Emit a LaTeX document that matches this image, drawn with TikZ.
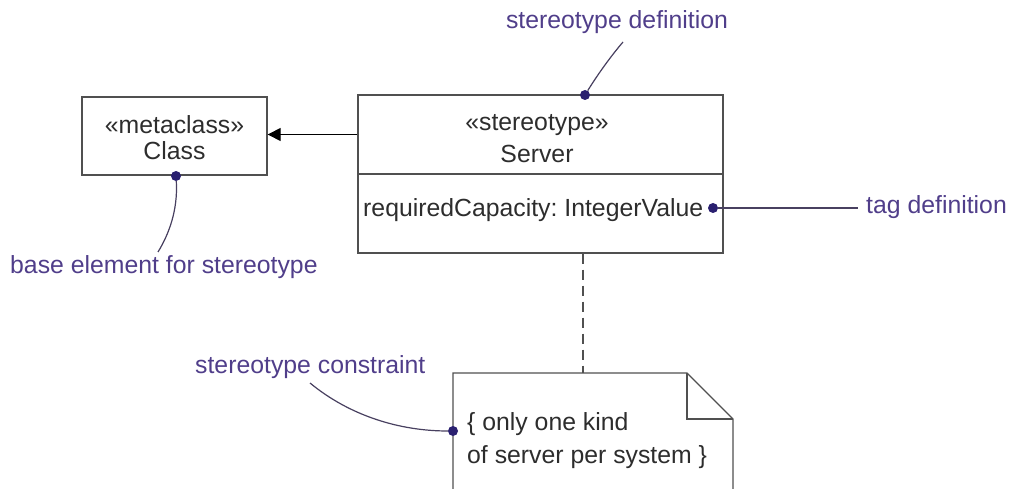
\documentclass[tikz,border=0pt]{standalone}
\usepackage{fontspec}
\setmainfont{Liberation Sans}
\usetikzlibrary{arrows.meta}

\definecolor{inkgray}{RGB}{45,45,45}
\definecolor{boxline}{RGB}{80,80,80}
\definecolor{calloutpurple}{RGB}{80,62,138}
\definecolor{dotindigo}{RGB}{42,32,112}
\definecolor{leadergray}{RGB}{72,64,96}

\frenchspacing
\begin{document}
\begin{tikzpicture}[x=1pt,y=-1pt,
  every node/.style={font=\fontsize{24.8}{28}\selectfont, text=inkgray, inner sep=0pt},
  umlbox/.style={draw=boxline, line width=1.4pt},
  boxtext/.style={anchor=base},
  callout/.style={text=calloutpurple, anchor=base},
  pindot/.style={circle, fill=dotindigo, minimum size=10pt, inner sep=0pt},
  leaderline/.style={draw=leadergray, line width=1.2pt},
  genarrow/.style={draw=black, line width=1.4pt, -{Triangle[length=13pt,width=13pt]}},
  tether/.style={draw=boxline, line width=1.4pt, dash pattern=on 10pt off 6pt},
]
\useasboundingbox (0,0) rectangle (1009,489);

% metaclass box
\node[umlbox, minimum width=185pt, minimum height=78pt] (meta) at (174.5,136) {};
\node[boxtext] (metakw) at (174.5,134) {«metaclass»};
\node[boxtext] (metaname) at (174.5,160) {Class};

% stereotype class with its tag compartment
\node[umlbox, minimum width=365pt, minimum height=79pt] (srvtop) at (540.5,134.5) {};
\node[umlbox, minimum width=365pt, minimum height=79pt] (srvattr) at (540.5,213.5) {};
\node[boxtext] (srvkw) at (537,131) {«stereotype»};
\node[boxtext] (srvname) at (537,163) {Server};
\node[boxtext, anchor=base west] (srvtag) at (363,217) {requiredCapacity: IntegerValue};

% extension arrow to the metaclass
\draw[genarrow] (srvtop.west) -- (srvtop.west -| meta.east);

% constraint note
\coordinate (notetop) at (583,373);
\draw[boxline, line width=1.4pt, fill=white]
  (453,495) -- (453,373) -- (687,373) -- (733,419) -- (733,495);
\draw[boxline, line width=1.4pt] (687,373) -- (687,419) -- (733,419);
\node[boxtext, anchor=base west] (noteline1) at (467,430) {\{ only one kind};
\node[boxtext, anchor=base west] (noteline2) at (467,463) {of server per system \}};
\draw[tether] (srvattr.south -| notetop) -- (notetop);

% callout labels
\node[callout] (lbldef) at (617,29) {stereotype definition};
\node[callout, anchor=base west] (lblbase) at (10,273) {base element for stereotype};
\node[callout, anchor=base west] (lbltag) at (866,214) {tag definition};
\node[callout, anchor=base west] (lblcons) at (195,373) {stereotype constraint};

% pin dots
\node[pindot] (dotdef) at (585,95) {};
\node[pindot] (dotbase) at (176,176) {};
\node[pindot] (dottag) at (713,208) {};
\node[pindot] (dotcons) at (453,431) {};

% leader lines
\coordinate (enddef) at (623,42);
\coordinate (endbase) at (158,252);
\coordinate (endtag) at (858,208);
\coordinate (endcons) at (310,383);
\draw[leaderline] (dotdef) .. controls (598,74) and (611,56) .. (enddef);
\draw[leaderline] (dotbase) .. controls (178,210) and (169,234) .. (endbase);
\draw[leaderline] (dottag) -- (endtag);
\draw[leaderline] (endcons) .. controls (350,416) and (400,431) .. (dotcons);
\end{tikzpicture}
\end{document}
